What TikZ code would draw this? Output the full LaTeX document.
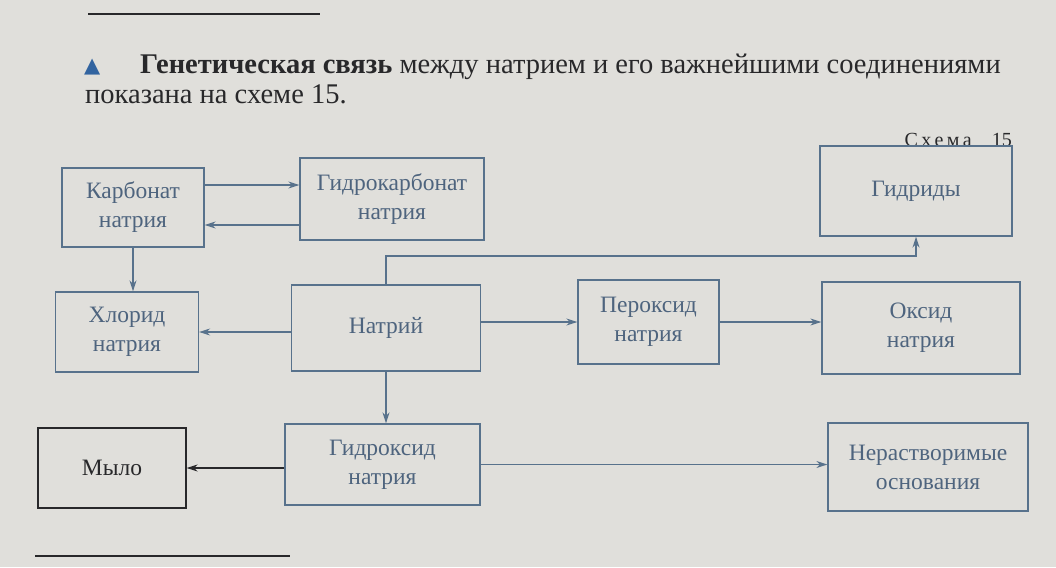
\documentclass[tikz,border=0pt]{standalone}
\usepackage{fontspec}
\setmainfont{Liberation Serif}
\newfontfamily\symfont{DejaVu Sans}
\usetikzlibrary{arrows.meta}
\definecolor{paper}{RGB}{224,223,219}
\definecolor{boxc}{RGB}{88,114,140}
\definecolor{txtc}{RGB}{78,100,126}
\definecolor{inkc}{RGB}{40,40,42}
\definecolor{tric}{RGB}{50,100,160}
\tikzset{
  box/.style={draw=boxc, line width=1.3pt, text=txtc, align=center,
    inner sep=0pt, font=\fontsize{23.5}{29}\selectfont},
  arr/.style={draw=boxc, line width=1.3pt, -{Stealth[length=11pt,width=7pt]}},
  darr/.style={draw=inkc, line width=1.4pt, -{Stealth[length=11pt,width=7pt]}},
  rule/.style={draw=inkc, line width=1.6pt},
}
\begin{document}
\begin{tikzpicture}[x=1pt,y=-1pt]
\useasboundingbox[fill=paper] (0,0) rectangle (1056,567);
% rules
\coordinate (r1a) at (88,14); \coordinate (r1b) at (320,14);
\draw[rule] (r1a) -- (r1b);
\coordinate (r2a) at (35,556); \coordinate (r2b) at (290,556);
\draw[rule, line width=2.2pt] (r2a) -- (r2b);
% heading text
\node[anchor=base west, inner sep=0, text=tric, font=\symfont\fontsize{21}{21}\selectfont] (tri) at (84,73) {▲};
\node[anchor=base west, inner sep=0, text=inkc, font=\fontsize{28.5}{28.5}\selectfont] (h1) at (140,74)
  {\textbf{Генетическая связь} между натрием и его важнейшими соединениями};
\node[anchor=base west, inner sep=0, text=inkc, font=\fontsize{28.5}{28.5}\selectfont] (h2) at (85,103)
  {показана на схеме 15.};
\node[anchor=base east, inner sep=0, text=inkc, font=\fontsize{20}{20}\selectfont] (sch) at (1012,146)
  {С\,х\,е\,м\,а\quad 15};
% boxes
\node[box, minimum width=142pt, minimum height=79pt] (carb) at (133,207.5) {Карбонат\\натрия};
\node[box, minimum width=184pt, minimum height=82pt] (hc) at (392,199) {Гидрокарбонат\\натрия};
\node[box, minimum width=192pt, minimum height=90pt] (gid) at (916,191) {Гидриды};
\node[box, minimum width=143pt, minimum height=80pt] (chl) at (127,332) {Хлорид\\натрия};
\node[box, minimum width=189pt, minimum height=86pt] (na) at (386,328) {Натрий};
\node[box, minimum width=141pt, minimum height=84pt] (per) at (648.5,322) {Пероксид\\натрия};
\node[box, minimum width=198pt, minimum height=92pt] (ox) at (921,328) {Оксид\\натрия};
\node[box, draw=inkc, text=inkc, minimum width=148pt, minimum height=80pt] (soap) at (112,468) {Мыло};
\node[box, minimum width=195pt, minimum height=81pt] (hyd) at (382.5,464.5) {Гидроксид\\натрия};
\node[box, minimum width=200pt, minimum height=88pt] (ins) at (928,467) {Нерастворимые\\основания};
% connectors
\draw[arr] (carb.east |- 0,185) -- (hc.west |- 0,185);
\draw[arr] (hc.west |- 0,225) -- (carb.east |- 0,225);
\draw[arr] (carb.south) -- (carb.south |- chl.north);
\draw[arr] (na.west |- chl.east) -- (chl.east);
\coordinate (bend) at (386,256);
\draw[arr] (na.north) -- (bend) -| (gid.south);
\draw[arr] (na.east |- per.west) -- (per.west);
\draw[arr] (per.east) -- (ox.west |- per.east);
\draw[arr] (na.south) -- (na.south |- hyd.north);
\draw[darr] (hyd.west |- soap.east) -- (soap.east);
\draw[arr] (hyd.east) -- (ins.west |- hyd.east);
\end{tikzpicture}
\end{document}
